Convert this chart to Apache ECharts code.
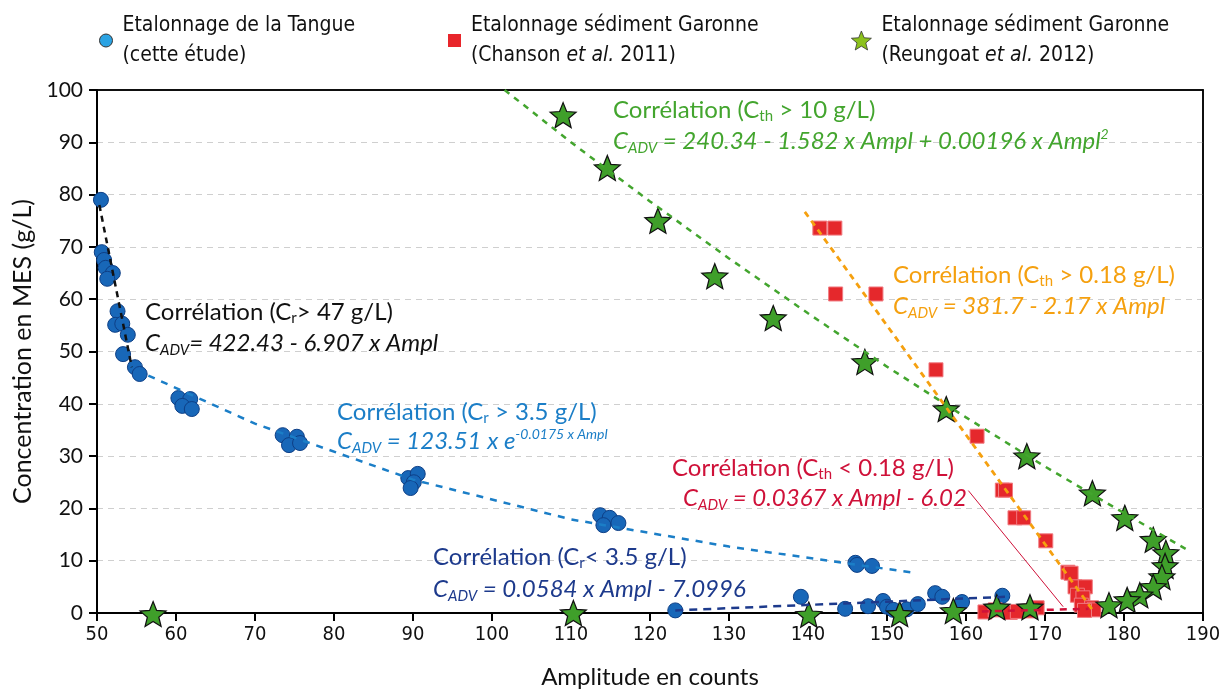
<!DOCTYPE html>
<html>
<head>
<meta charset="utf-8">
<script src="https://cdn.jsdelivr.net/npm/echarts@6/dist/echarts.min.js"></script>
<style>
  html, body { margin: 0; padding: 0; background: #fff; }
  #main { width: 1231px; height: 691px; }
</style>
</head>
<body>
<div id="main"></div>
<script>
// Etalonnage de la Tangue (cette étude) - [amplitude, MES]
var tangueData = [
  [50.5, 79.0], [50.6, 69.0], [50.9, 67.5], [51.1, 66.0], [52.0, 65.0], [51.3, 63.9],
  [52.6, 57.7], [52.3, 55.1], [53.2, 55.3], [53.9, 53.2], [53.3, 49.5], [54.8, 47.0],
  [55.4, 45.7], [60.3, 41.1], [61.8, 40.9], [60.8, 39.6], [62.0, 39.0],
  [73.5, 34.0], [75.3, 33.7], [74.3, 32.1], [75.7, 32.5],
  [89.4, 25.8], [90.6, 26.6], [90.1, 25.0], [89.7, 23.9],
  [113.7, 18.7], [114.9, 18.2], [114.1, 16.8], [116.0, 17.2],
  [146.0, 9.6], [146.2, 9.2], [148.1, 9.0],
  [123.2, 0.5], [139.1, 3.1], [144.7, 0.8], [147.6, 1.3], [149.5, 2.3], [150.0, 1.2],
  [150.8, 0.6], [152.5, 0.7], [153.9, 1.7], [156.1, 3.8], [157.0, 3.1], [159.5, 2.1], [164.6, 3.3]
];
// Etalonnage sédiment Garonne (Chanson et al. 2011)
var chansonData = [
  [141.5, 73.6], [143.4, 73.6], [143.5, 61.0], [148.6, 61.0], [156.2, 46.5], [161.4, 33.8],
  [164.6, 23.5], [165.0, 23.5], [166.2, 18.2], [167.3, 18.2], [170.1, 13.8],
  [172.9, 7.8], [173.3, 7.6], [173.8, 5.0], [175.1, 5.0], [174.1, 3.4], [174.8, 2.9],
  [174.6, 1.5], [175.9, 1.0], [176.2, 0.6], [175.0, 0.5], [169.0, 1.0], [168.2, 0.4],
  [162.4, 0.2], [163.7, 0.6], [165.6, 0.1], [166.5, 0.3]
];
// Etalonnage sédiment Garonne (Reungoat et al. 2012)
var reungoatData = [
  [109.0, 95.2], [114.6, 85.1], [121.0, 75.0], [128.2, 64.4], [135.6, 56.4], [147.2, 48.0],
  [157.5, 39.0], [167.7, 30.0], [176.0, 22.9], [180.1, 18.2], [183.7, 14.0], [185.3, 11.5],
  [185.2, 9.0], [184.8, 6.9], [183.7, 5.0], [182.0, 3.4], [180.4, 2.5], [178.1, 1.5],
  [168.1, 1.1], [163.9, 1.1], [158.4, 0.4], [151.6, -0.2], [140.1, -0.3], [110.3, 0.0], [57.1, -0.2]
];

// courbes de corrélation
var fitCr47 = [[50.3, 78.0], [54.4, 47.0]];
var fitCr35 = [[56.5, 45.4], [70, 36.2], [90, 25.5], [110, 17.9], [130, 12.7], [153.8, 7.6]];
var fitCrLow = [[123.2, 0.5], [165.0, 3.1]];
var fitCth18 = [[139.6, 76.7], [176.3, 0.0]];
var fitCthLow = [[162.0, 0.3], [175.5, 0.8]];
var fitCth10 = [[101.6, 100], [110, 90.0], [120, 78.7], [130, 67.8], [140, 57.3], [150, 47.1],
  [160, 37.4], [170, 28.0], [180, 19.1], [188.1, 12.0]];
var pointerLine = [[160.3, 23.4], [172.3, 1.2]];

var starPath = 'path://M50 0 L62.93 32.2 L97.55 34.55 L70.92 56.8 L79.39 90.45 L50 72 L20.61 90.45 L29.08 56.8 L2.45 34.55 L37.07 32.2 Z';
var condFont = "'Liberation Sans Narrow', 'DejaVu Sans Condensed', sans-serif";
var txtFont = "Lato, 'Open Sans', sans-serif";

var green = '#43a52e', orange = '#f5a00f', black = '#111', lightBlue = '#1b7ec7', navy = '#1d3a8c', crimson = '#cf1139';

function fitLine(name, data, color, width, dash) {
  return {
    name: name, type: 'line', data: data, showSymbol: false, symbol: 'none', z: 5,
    silent: true, clip: false,
    lineStyle: { color: color, width: width, type: dash }
  };
}

function corrText(x, y, color, parts) {
  return {
    type: 'text', x: x, y: y, z: 10,
    style: {
      text: parts, fill: color, verticalAlign: 'middle',
      font: '24px ' + txtFont,
      rich: {
        n: { fontSize: 24, fontFamily: txtFont, fill: color, lineHeight: 30 },
        s: { fontSize: 15, fontFamily: txtFont, fill: color, padding: [13, 0, 0, 0] },
        i: { fontSize: 24, fontFamily: txtFont, fontStyle: 'italic', fill: color, lineHeight: 30 },
        is: { fontSize: 15, fontFamily: txtFont, fontStyle: 'italic', fill: color, padding: [15, 0, 0, 0] },
        sp: { fontSize: 14, fontFamily: txtFont, fontStyle: 'italic', fill: color, padding: [0, 0, 13, 0] }
      }
    }
  };
}

var legendNames = {
  'Tangue': '{a|Etalonnage de la Tangue}\n{a|(cette étude)}',
  'Chanson': '{a|Etalonnage sédiment Garonne}\n{a|(Chanson }{i|et al.}{a| 2011)}',
  'Reungoat': '{a|Etalonnage sédiment Garonne}\n{a|(Reungoat }{i|et al.}{a| 2012)}'
};
function legendOf(name, left, icon, color, size, border) {
  return {
    left: left, top: 10, itemWidth: size, itemHeight: size, itemGap: 8,
    selectedMode: false,
    data: [{ name: name, icon: icon, itemStyle: { color: color, borderColor: '#333', borderWidth: border } }],
    formatter: function (n) { return legendNames[n]; },
    textStyle: {
      padding: [0, 0, 0, 5],
      rich: {
        a: { fontSize: 21, fontFamily: condFont, color: '#111', lineHeight: 30 },
        i: { fontSize: 21, fontFamily: condFont, color: '#111', lineHeight: 30, fontStyle: 'italic' }
      }
    }
  };
}

var chart = echarts.init(document.getElementById('main'), null, { renderer: 'canvas' });
var option = {
  animation: false,
  backgroundColor: '#fff',
  legend: [
    legendOf('Tangue', 94, 'circle', '#2ba3e3', 13, 1),
    legendOf('Chanson', 443, 'rect', '#e8262b', 13, 0),
    legendOf('Reungoat', 846, starPath, '#8cc21c', 20, 0.8)
  ],
  grid: {
    left: 97, right: 28, top: 90, bottom: 78, outerBoundsMode: 'none', containLabel: false,
    show: true, borderColor: '#000', borderWidth: 1.5, backgroundColor: 'transparent'
  },
  xAxis: [{
    type: 'value', min: 50, max: 190, interval: 10,
    name: 'Amplitude en counts', nameLocation: 'middle', nameGap: 52,
    nameTextStyle: { fontSize: 24, fontFamily: txtFont, color: '#111' },
    axisLine: { show: true, onZero: false, lineStyle: { color: '#000', width: 2 } },
    axisTick: { show: true, length: 8, lineStyle: { color: '#000', width: 2 } },
    axisLabel: { fontSize: 20, fontFamily: condFont, color: '#111', margin: 12 },
    splitLine: { show: false }
  }, {
    type: 'value', min: 50, max: 190, interval: 10, position: 'top',
    axisLine: { show: true, onZero: false, lineStyle: { color: '#000', width: 1.5 } },
    axisTick: { show: false }, axisLabel: { show: false }, splitLine: { show: false }
  }],
  yAxis: [{
    type: 'value', min: 0, max: 100, interval: 10,
    name: 'Concentration en MES (g/L)', nameLocation: 'middle', nameGap: 47,
    nameTextStyle: { fontSize: 25, fontFamily: txtFont, color: '#111' },
    axisLine: { show: true, lineStyle: { color: '#000', width: 2 } },
    axisTick: { show: true, length: 8, lineStyle: { color: '#000', width: 2 } },
    axisLabel: { fontSize: 21, fontFamily: txtFont, color: '#111', margin: 14 },
    splitLine: { show: true, showMaxLine: false, showMinLine: false, lineStyle: { color: '#cfcfcf', type: [6, 5], width: 1.2 } }
  }, {
    type: 'value', min: 0, max: 100, interval: 10, position: 'right',
    axisLine: { show: true, onZero: false, lineStyle: { color: '#000', width: 1.5 } },
    axisTick: { show: false }, axisLabel: { show: false }, splitLine: { show: false }
  }],
  series: [
    {
      name: 'Tangue', type: 'scatter', data: tangueData, symbol: 'circle', symbolSize: 15, z: 3, clip: false,
      itemStyle: { color: '#1867b8', borderColor: '#0e3f86', borderWidth: 1, opacity: 1 }
    },
    {
      name: 'Chanson', type: 'scatter', data: chansonData, symbol: 'rect', symbolSize: 14, z: 3, clip: false,
      itemStyle: { color: '#e5282c', borderColor: '#f07a80', borderWidth: 1, opacity: 1 }
    },
    {
      name: 'Reungoat', type: 'scatter', data: reungoatData, symbol: starPath, symbolSize: [26, 25], z: 4, clip: false,
      itemStyle: { color: '#3f9f2a', borderColor: '#111', borderWidth: 1.2, opacity: 1 }
    },
    fitLine('fitCr47', fitCr47, black, 2.5, [6, 5]),
    fitLine('fitCr35', fitCr35, lightBlue, 2.5, [7, 7]),
    fitLine('fitCrLow', fitCrLow, navy, 2.5, [8, 6]),
    fitLine('fitCth18', fitCth18, orange, 2.8, [6, 5]),
    fitLine('fitCthLow', fitCthLow, crimson, 2.5, [7, 6]),
    fitLine('fitCth10', fitCth10, green, 2.5, [6, 6]),
    fitLine('pointer', pointerLine, crimson, 1, 'solid')
  ],
  graphic: [
    corrText(613, 110, green, '{n|Corrélation (C}{s|th}{n| > 10 g/L)}'),
    corrText(613, 141, green, '{i|C}{is|ADV}{i| = 240.34 - 1.582 x Ampl + 0.00196 x Ampl}{sp|2}'),
    corrText(893, 275, orange, '{n|Corrélation (C}{s|th}{n| > 0.18 g/L)}'),
    corrText(893, 306, orange, '{i|C}{is|ADV}{i| = 381.7 - 2.17 x Ampl}'),
    corrText(145, 312, black, '{n|Corrélation (C}{s|r}{n|> 47 g/L)}'),
    corrText(145, 343, black, '{i|C}{is|ADV}{i|= 422.43 - 6.907 x Ampl}'),
    corrText(337, 412, lightBlue, '{n|Corrélation (C}{s|r}{n| > 3.5 g/L)}'),
    corrText(337, 441, lightBlue, '{i|C}{is|ADV}{i| = 123.51 x e}{sp|-0.0175 x Ampl}'),
    corrText(672, 468, crimson, '{n|Corrélation (C}{s|th}{n| < 0.18 g/L)}'),
    corrText(683, 498, crimson, '{i|C}{is|ADV}{i| = 0.0367 x Ampl - 6.02}'),
    corrText(433, 557, navy, '{n|Corrélation (C}{s|r}{n|< 3.5 g/L)}'),
    corrText(433, 589, navy, '{i|C}{is|ADV}{i| = 0.0584 x Ampl - 7.0996}')
  ]
};
chart.setOption(option);
</script>
</body>
</html>
